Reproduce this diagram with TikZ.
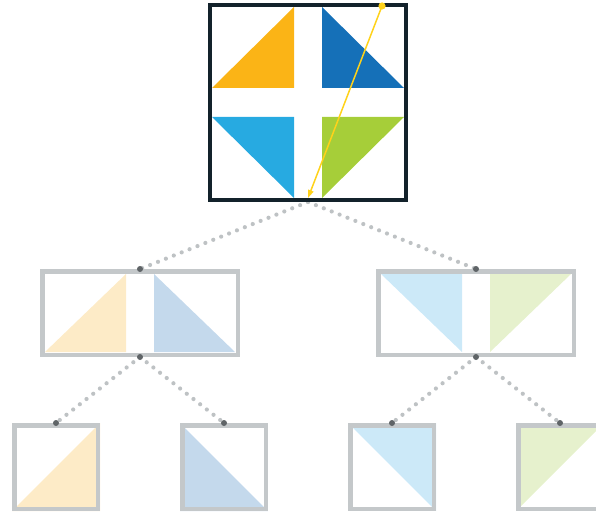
\documentclass[tikz,border=0pt]{standalone}
\usetikzlibrary{arrows.meta}
\pgfdeclarelayer{bg}
\pgfsetlayers{bg,main}

\definecolor{navy}{HTML}{13222B}
\definecolor{frame}{HTML}{C4C8CA}
\definecolor{dotgray}{HTML}{BEC2C4}
\definecolor{pin}{HTML}{5F6467}
\definecolor{qorange}{HTML}{FBB416}
\definecolor{qblue}{HTML}{1570B8}
\definecolor{qsky}{HTML}{27AAE1}
\definecolor{qgreen}{HTML}{A6CE39}
\definecolor{lorange}{HTML}{FDEBC7}
\definecolor{lblue}{HTML}{C4D9EC}
\definecolor{lsky}{HTML}{CCE9F8}
\definecolor{lgreen}{HTML}{E6F1CD}
\definecolor{arrowyellow}{HTML}{FFD21A}

\tikzset{
  rootbox/.style={draw=navy, line width=4pt, minimum width=196pt, minimum height=195pt, inner sep=0pt},
  halfbox/.style={draw=frame, line width=4.5pt, minimum width=195.5pt, minimum height=83.5pt, inner sep=0pt},
  leafbox/.style={draw=frame, line width=4.5pt, minimum width=83.5pt, minimum height=83.5pt, inner sep=0pt},
  dotline/.style={draw=dotgray, line width=4.2pt, line cap=round, dash pattern=on 0pt off 8.5pt},
  pinpt/.style={fill=pin},
  pointer/.style={draw=arrowyellow, line width=1.5pt, -{Triangle[length=8pt,width=5.5pt]}}
}

\begin{document}
\begin{tikzpicture}[x=1pt,y=-1pt]
\useasboundingbox (0,0) rectangle (596,513);

% boxes
\node[rootbox] (root) at (308,102.5) {};
\node[halfbox] (ml) at (140,313) {};
\node[halfbox] (mr) at (476,313) {};
\node[leafbox] (b1) at (56,467) {};
\node[leafbox] (b2) at (224,467) {};
\node[leafbox] (b3) at (392,467) {};
\node[leafbox] (b4) at (560,467) {};

\begin{pgfonlayer}{bg}
  % four quadrants of the root square
  \fill[qorange] (212,88) -- (294,7) -- (294,88) -- cycle;
  \fill[qblue] (322,7) -- (404,88) -- (322,88) -- cycle;
  \fill[qsky] (212,117) -- (294,117) -- (294,198) -- cycle;
  \fill[qgreen] (322,117) -- (404,117) -- (322,198) -- cycle;
  % halves
  \fill[lorange] (45,352) -- (126,274) -- (126,352) -- cycle;
  \fill[lblue] (154,274) -- (154,352) -- (235,352) -- cycle;
  \fill[lsky] (381,274) -- (462,274) -- (462,352) -- cycle;
  \fill[lgreen] (490,274) -- (571,274) -- (490,352) -- cycle;
  % leaves
  \fill[lorange] (b1.south west) -- (b1.north east) -- (b1.south east) -- cycle;
  \fill[lblue] (b2.north west) -- (b2.south west) -- (b2.south east) -- cycle;
  \fill[lsky] (b3.north west) -- (b3.north east) -- (b3.south east) -- cycle;
  \fill[lgreen] (b4.north west) -- (b4.north east) -- (b4.south west) -- cycle;
  % dotted tree connectors
  \draw[dotline] (root.south) -- (ml.north);
  \draw[dotline] (root.south) -- (mr.north);
  \draw[dotline] (ml.south) -- (b1.north);
  \draw[dotline] (ml.south) -- (b2.north);
  \draw[dotline] (mr.south) -- (b3.north);
  \draw[dotline] (mr.south) -- (b4.north);
\end{pgfonlayer}

% attachment points
\foreach \p in {ml.north, ml.south, mr.north, mr.south, b1.north, b2.north, b3.north, b4.north}
  \fill[pinpt] (\p) circle[radius=3pt];

% yellow pointer across the root square
\coordinate (ys) at (382,6);
\coordinate (ye) at (308,198);
\draw[pointer] (ys) -- (ye);
\fill[arrowyellow] (ys) circle[radius=3.6pt];
\end{tikzpicture}
\end{document}
